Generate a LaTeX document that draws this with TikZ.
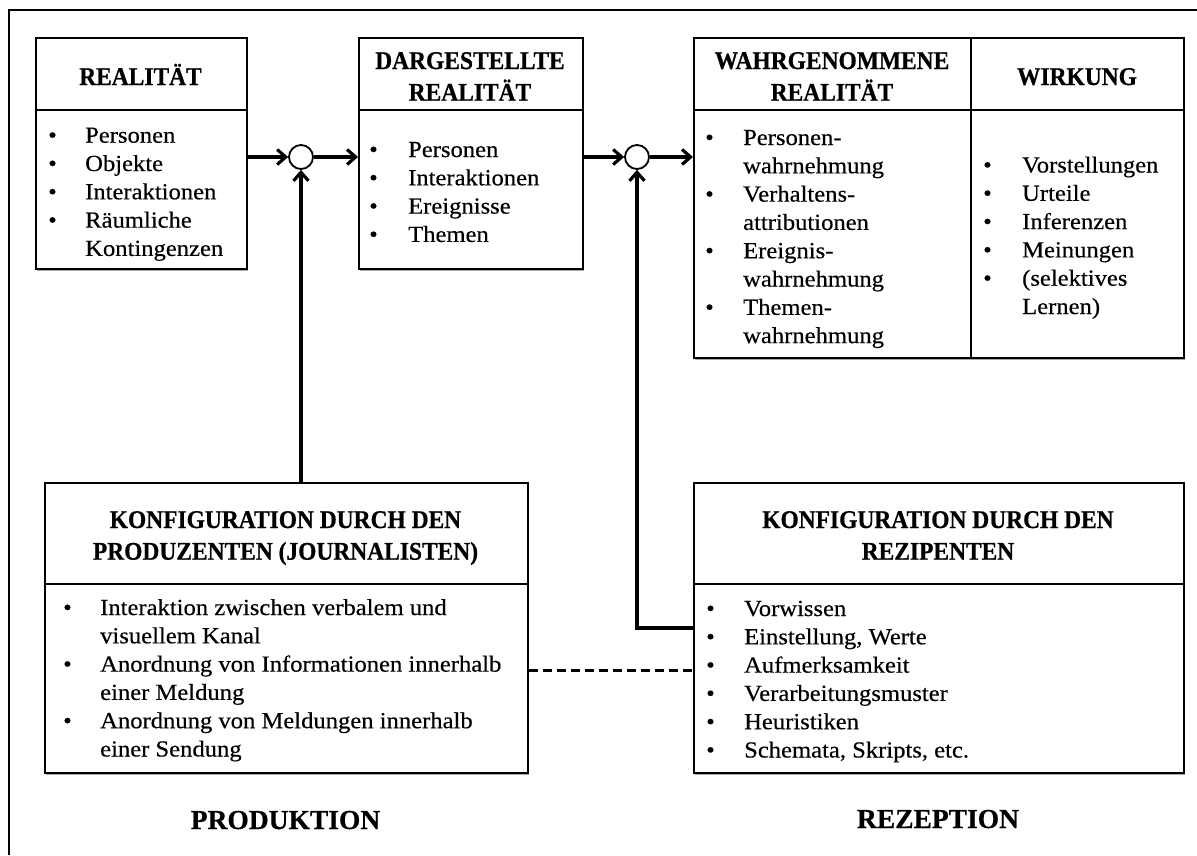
\documentclass[tikz,border=0pt]{standalone}
\usepackage{fontspec}
\setmainfont{Liberation Serif}[FakeStretch=1.07, FakeBold=0.4]
\newfontfamily\hdfont{Liberation Serif}[FakeStretch=0.92, FakeBold=0.6]
\newfontfamily\lblfont{Liberation Serif}[FakeBold=0.6]
\usetikzlibrary{arrows.meta,shadows}

% bullet list: #1 = width of the bullet column, #2 = rows
\newcommand\blist[2]{\begin{tabular}[t]{@{}p{#1}@{}l@{}}#2\end{tabular}}
\newcommand\bu{\textbullet}
% centred multi-line heading
\newcommand\hdtext[1]{\begin{tabular}[t]{@{}c@{}}#1\end{tabular}}

\tikzset{
  panel/.style={draw, line width=1.9pt, rectangle, inner sep=0pt, anchor=north west, fill=white,
    drop shadow={shadow xshift=1.5pt, shadow yshift=-2.5pt, opacity=0.35, fill=black}},
  sepline/.style={line width=1.9pt},
  head/.style={anchor=base, inner sep=0pt, font=\hdfont\bfseries\fontsize{25.5}{31.7}\selectfont},
  body/.style={anchor=base west, inner sep=0pt, font=\fontsize{23}{28.3}\selectfont},
  sidelabel/.style={anchor=base, inner sep=0pt, font=\lblfont\bfseries\fontsize{27.5}{30}\selectfont},
  junction/.style={circle, draw, line width=1.8pt, minimum size=24pt, inner sep=0pt, fill=white},
  flow/.style={line width=3.2pt, -{Straight Barb[length=8.5pt,width=15pt]}},
  link/.style={line width=3pt, dash pattern=on 9pt off 5pt}
}

\begin{document}
\begin{tikzpicture}[x=1pt, y=-1pt]
\useasboundingbox (0,0) rectangle (1197,855);

% frame
\draw[line width=1.8pt] (9,855) -- (9,10) -- (1197,10);

% upper row of panels
\node[panel, minimum width=211pt, minimum height=231pt] (real) at (35,37) {};
\node[panel, minimum width=224pt, minimum height=231pt] (darg) at (358,37) {};
\node[panel, minimum width=490pt, minimum height=320pt] (wahr) at (693,37) {};

\draw[sepline] ([yshift=-73pt]real.north west) -- ([yshift=-73pt]real.north east);
\draw[sepline] ([yshift=-73pt]darg.north west) -- ([yshift=-73pt]darg.north east);
\draw[sepline] ([yshift=-73pt]wahr.north west) -- ([yshift=-73pt]wahr.north east);
\draw[sepline] ([xshift=278pt]wahr.north west) -- ([xshift=278pt]wahr.south west);

% lower row of panels
\node[panel, minimum width=483pt, minimum height=290pt] (prod) at (44,482) {};
\node[panel, minimum width=490pt, minimum height=290pt] (rez) at (693,482) {};

\draw[sepline] ([yshift=-102pt]prod.north west) -- ([yshift=-102pt]prod.north east);
\draw[sepline] ([yshift=-102pt]rez.north west) -- ([yshift=-102pt]rez.north east);

% headings
\node[head] (realh) at (140.5,85) {\hdtext{REALITÄT}};
\node[head] (dargh) at (470,69) {\hdtext{DARGESTELLTE\\REALITÄT}};
\node[head] (wahrh) at (832,69) {\hdtext{WAHRGENOMMENE\\REALITÄT}};
\node[head] (wirkh) at (1077,85) {\hdtext{WIRKUNG}};
\node[head] (prodh) at (285.5,528) {\hdtext{KONFIGURATION DURCH DEN\\PRODUZENTEN (JOURNALISTEN)}};
\node[head] (rezh) at (938,528) {\hdtext{KONFIGURATION DURCH DEN\\REZIPENTEN}};

% contents
\node[body] (realb) at (48,142.7) {\blist{37pt}{
  \bu & Personen\\ \bu & Objekte\\ \bu & Interaktionen\\ \bu & Räumliche\\ & Kontingenzen}};
\node[body] (dargb) at (369,157) {\blist{39pt}{
  \bu & Personen\\ \bu & Interaktionen\\ \bu & Ereignisse\\ \bu & Themen}};
\node[body] (wahrb) at (705,145) {\blist{38pt}{
  \bu & Personen-\\ & wahrnehmung\\ \bu & Verhaltens-\\ & attributionen\\
  \bu & Ereignis-\\ & wahrnehmung\\ \bu & Themen-\\ & wahrnehmung}};
\node[body] (wirkb) at (983,172.5) {\blist{39pt}{
  \bu & Vorstellungen\\ \bu & Urteile\\ \bu & Inferenzen\\ \bu & Meinungen\\
  \bu & (selektives\\ & Lernen)}};
\node[body] (prodb) at (63,615) {\blist{37pt}{
  \bu & Interaktion zwischen verbalem und\\ & visuellem Kanal\\
  \bu & Anordnung von Informationen innerhalb\\ & einer Meldung\\
  \bu & Anordnung von Meldungen innerhalb\\ & einer Sendung}};
\node[body] (rezb) at (706,616) {\blist{38pt}{
  \bu & Vorwissen\\ \bu & Einstellung, Werte\\ \bu & Aufmerksamkeit\\
  \bu & Verarbeitungsmuster\\ \bu & Heuristiken\\ \bu & Schemata, Skripts, etc.}};

% side labels
\node[sidelabel] (prodl) at (285.5,829) {PRODUKTION};
\node[sidelabel] (rezl) at (938,828) {REZEPTION};

% junctions
\node[junction] (j1) at (301,157) {};
\node[junction] (j2) at (637,157) {};

% connectors
\draw[flow] (j1 -| real.east) -- (j1.west);
\draw[flow] (j1.east) -- (j1 -| darg.west);
\draw[flow] (j2 -| darg.east) -- (j2.west);
\draw[flow] (j2.east) -- (j2 -| wahr.west);
\draw[flow] (j1 |- prod.north) -- (j1.south);
\draw[flow] (rez.west) -| (j2.south);
\draw[link] ([yshift=-43pt]prod.east) -- ([yshift=-43pt]rez.west);
\end{tikzpicture}
\end{document}
